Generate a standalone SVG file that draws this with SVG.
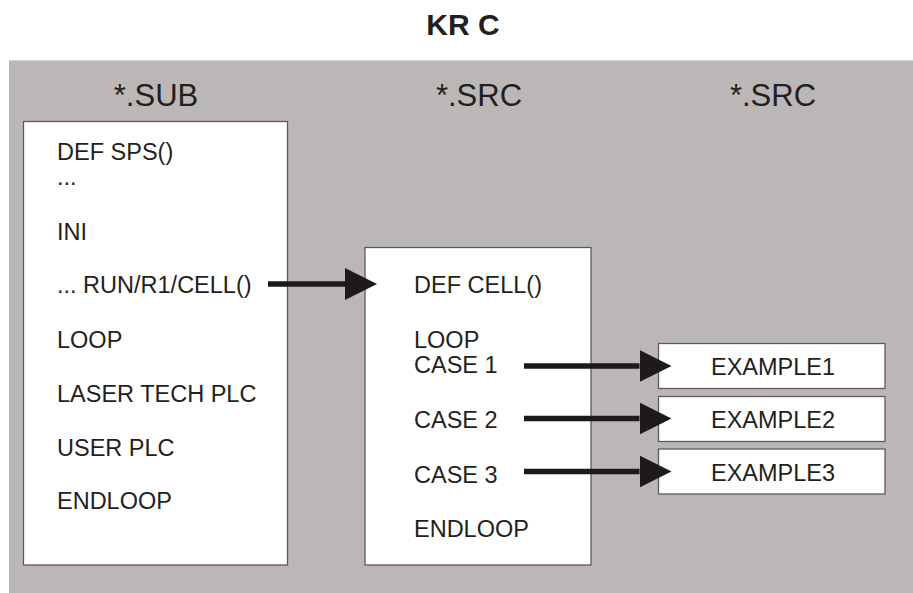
<svg xmlns="http://www.w3.org/2000/svg" width="913" height="593" viewBox="0 0 913 593">
  <style>
    text { font-family: "Liberation Sans", Arial, sans-serif; fill: #231f20; }
    .title { font-size: 30px; font-weight: bold; text-anchor: middle; }
    .head { font-size: 31px; text-anchor: middle; }
    .code { font-size: 23.5px; }
    .ex { font-size: 23.5px; text-anchor: middle; }
    .box { fill: #ffffff; stroke: #5e5a5a; stroke-width: 1.3; }
    .arrow { stroke: #1e1a1a; stroke-width: 5.5; fill: none; marker-end: url(#head); }
  </style>
  <defs>
    <marker id="head" markerUnits="userSpaceOnUse" markerWidth="33" markerHeight="33" refX="0" refY="16" orient="auto" viewBox="0 0 33 33">
      <path d="M0,0 L32,16 L0,32 Z" fill="#1e1a1a"/>
    </marker>
  </defs>

  <rect width="913" height="593" fill="#ffffff"/>
  <text class="title" x="463" y="35">KR C</text>

  <g id="background">
    <rect x="9" y="60" width="904" height="533" fill="#bcb7b7"/>
    <line x1="9" y1="60.5" x2="913" y2="60.5" stroke="#d8d4d4" stroke-width="1"/>
    <text class="head" x="156" y="106">*.SUB</text>
    <text class="head" x="479" y="106">*.SRC</text>
    <text class="head" x="773" y="106">*.SRC</text>
  </g>

  <g id="sub-box">
    <rect class="box" x="23.5" y="121.5" width="264" height="443.5"/>
    <text class="code" x="57" y="160">DEF SPS()</text>
    <text class="code" x="57" y="185">...</text>
    <text class="code" x="57" y="240">INI</text>
    <text class="code" x="57" y="293">... RUN/R1/CELL()</text>
    <text class="code" x="57" y="348">LOOP</text>
    <text class="code" x="57" y="402">LASER TECH PLC</text>
    <text class="code" x="57" y="456">USER PLC</text>
    <text class="code" x="57" y="509">ENDLOOP</text>
  </g>

  <g id="cell-box">
    <rect class="box" x="365" y="247.5" width="226" height="317.5"/>
    <text class="code" x="414" y="293">DEF CELL()</text>
    <text class="code" x="414" y="348">LOOP</text>
    <text class="code" x="414" y="373">CASE 1</text>
    <text class="code" x="414" y="428">CASE 2</text>
    <text class="code" x="414" y="482.5">CASE 3</text>
    <text class="code" x="414" y="536.5">ENDLOOP</text>
  </g>

  <g id="example1">
    <rect class="box" x="658.5" y="343.5" width="226.5" height="45"/>
    <text class="ex" x="773" y="375">EXAMPLE1</text>
  </g>
  <g id="example2">
    <rect class="box" x="658.5" y="396.5" width="226.5" height="45"/>
    <text class="ex" x="773" y="427.5">EXAMPLE2</text>
  </g>
  <g id="example3">
    <rect class="box" x="658.5" y="449" width="226.5" height="45"/>
    <text class="ex" x="773" y="480.5">EXAMPLE3</text>
  </g>

  <g id="connectors">
    <path class="arrow" d="M268,284 L345,284"/>
    <path class="arrow" d="M524,366 L639.5,366"/>
    <path class="arrow" d="M524,418.5 L639.5,418.5"/>
    <path class="arrow" d="M524,471.5 L639.5,471.5"/>
  </g>
</svg>
